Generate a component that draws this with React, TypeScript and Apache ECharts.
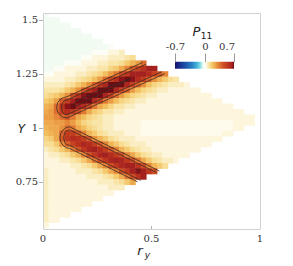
import React, { useEffect, useRef } from "react";
import * as echarts from "echarts";

// ---------------- data ----------------
const X_TICKS = [0, 0.5, 1];
const Y_TICKS = [0.75, 1, 1.25, 1.5];
const Y_RANGE = [0.532, 1.532];
const COLORBAR_TICKS = [-0.7, 0, 0.7];
const COLORBAR_LABELS = ["-0.7", "0", "0.7"];
const P_MIN = -0.7;
const P_MAX = 0.7;

// field P11 on a 0.025 x 0.025 grid; one string per row (top to bottom),
// one character per cell starting at x = 0.0125; value = index in LEVEL_CODES * 0.025,
// "-" = -0.025; "c{n}" means the character c repeated n times
const CELL_SIZE = 0.025;
const FIRST_CELL_X = 0.0125;
const LEVEL_STEP = 0.025;
const LEVEL_CODES = "0123456789abcdefghijklmnopqrs";
const ROW_Y = [
  1.525, 1.5, 1.475, 1.45, 1.425, 1.4, 1.375, 1.35, 1.325, 1.3,
  1.275, 1.25, 1.225, 1.2, 1.175, 1.15, 1.125, 1.1, 1.075, 1.05,
  1.025, 1.0, 0.975, 0.95, 0.925, 0.9, 0.875, 0.85, 0.825, 0.8,
  0.775, 0.75, 0.725, 0.7, 0.675, 0.65, 0.625, 0.6, 0.575, 0.55,
];
const ROWS = [
  "-",
  "-{3}",
  "-{5}",
  "-{7}",
  "-{9}",
  "-{11}",
  "-{12}0",
  "-{9}000223",
  "-{7}0022233345",
  "-{4}0002223344579bf",
  "--002222334467adhknqq",
  "002222334568bejmqqqokhd",
  "2222334568bfkorsrolgc9754",
  "33334579cglpssspkgc86543332",
  "444579chmqssspkgb8654332{6}",
  "5679cinrssspkfb8654332{10}",
  "78bhlqsssokeb86543322{13}",
  "9afnrsqojea86443322{17}",
  "abflomiea76443322{21}",
  "bbdfhea86543322{25}",
  "aabbdb8654433222221{17}2222",
  "9aacfea865433222221{17}22",
  "89agllhd97543332221{15}22",
  "67ahmonlhc975433322{15}",
  "557cgknpolhd975433322{11}",
  "34579dhmpqolhd9754332{9}",
  "2334579dimpqolida7543322222",
  "22233457aeimpqpmiea754332",
  "2222233457adimpqqnid975",
  "322222333457adimqrqmi",
  "32222222333457aeinq",
  "3222222222333457a",
  "32{11}333",
  "32{12}",
  "32{10}",
  "32{8}",
  "3222222",
  "32222",
  "322",
  "2",
];

// contour lines (x, Y)
const UPPER_OUTER = [
  [0.4586, 1.303], [0.35, 1.2533], [0.25, 1.2078], [0.15, 1.1623], [0.11, 1.144],
  [0.095, 1.141], [0.078, 1.131], [0.068, 1.117], [0.063, 1.098], [0.066, 1.078],
  [0.076, 1.061], [0.092, 1.05], [0.11, 1.046], [0.15, 1.0643], [0.25, 1.1098],
  [0.35, 1.1553], [0.45, 1.2008], [0.561, 1.251],
];
const UPPER_INNER = [
  [0.4743, 1.2949], [0.35, 1.2383], [0.25, 1.1928], [0.15, 1.1473], [0.11, 1.129],
  [0.098, 1.126], [0.089, 1.114], [0.085, 1.095], [0.089, 1.076], [0.098, 1.064],
  [0.11, 1.061], [0.15, 1.0793], [0.25, 1.1248], [0.35, 1.1703], [0.45, 1.2158],
  [0.5455, 1.2593],
];
const UPPER_CORE = [
  [0.14, 1.108], [0.15, 1.122], [0.17, 1.133], [0.2, 1.147], [0.3, 1.19], [0.405, 1.229],
  [0.3, 1.174], [0.2, 1.126], [0.17, 1.11], [0.152, 1.102], [0.14, 1.108],
];
const LOWER_OUTER = [
  [0.5367, 0.8003], [0.45, 0.8433], [0.35, 0.8928], [0.25, 0.9423], [0.15, 0.9918],
  [0.123, 1.0051], [0.107, 1.002], [0.092, 0.99], [0.081, 0.973], [0.078, 0.955],
  [0.081, 0.937], [0.092, 0.92], [0.107, 0.908], [0.123, 0.9051], [0.15, 0.8918],
  [0.25, 0.8423], [0.35, 0.7928], [0.436, 0.7502],
];
const LOWER_INNER = [
  [0.5226, 0.7933], [0.45, 0.8293], [0.35, 0.8788], [0.25, 0.9283], [0.15, 0.9778],
  [0.123, 0.9911], [0.109, 0.987], [0.1, 0.978], [0.095, 0.955], [0.1, 0.932],
  [0.109, 0.923], [0.123, 0.9191], [0.15, 0.9058], [0.25, 0.8563], [0.35, 0.8068],
  [0.4503, 0.757],
];
const LOWER_CORE = [[0.432, 0.809], [0.447, 0.801]];
const CONTOURS = [UPPER_OUTER, UPPER_INNER, UPPER_CORE, LOWER_OUTER, LOWER_INNER, LOWER_CORE];

// ---------------- style ----------------
const COLOR_STOPS: [number, string][] = [
  [-0.7, "#16136a"],
  [-0.6, "#1b2a8c"],
  [-0.45, "#1d55aa"],
  [-0.3, "#2a80c4"],
  [-0.18, "#42b4da"],
  [-0.1, "#86dde8"],
  [-0.06, "#c8f2ec"],
  [-0.025, "#f1fbf2"],
  [0, "#fcfdf5"],
  [0.025, "#fefaec"],
  [0.05, "#fdf6dd"],
  [0.1, "#f9e5a8"],
  [0.15, "#f6d482"],
  [0.2, "#f2bf5e"],
  [0.28, "#eb9a42"],
  [0.36, "#df7430"],
  [0.44, "#cf5126"],
  [0.52, "#c23e1f"],
  [0.6, "#b42c1e"],
  [0.65, "#a32220"],
  [0.675, "#8a1418"],
  [0.7, "#6e0c14"],
];

function hexToRgb(h: string) {
  return [parseInt(h.slice(1, 3), 16), parseInt(h.slice(3, 5), 16), parseInt(h.slice(5, 7), 16)];
}
function colorAt(v: number) {
  if (v <= COLOR_STOPS[0][0]) return COLOR_STOPS[0][1];
  for (let k = 1; k < COLOR_STOPS.length; k++) {
    const [v1, c1] = COLOR_STOPS[k];
    if (v <= v1 + 1e-9) {
      const [v0, c0] = COLOR_STOPS[k - 1];
      const t = (v - v0) / (v1 - v0);
      const a = hexToRgb(c0);
      const b = hexToRgb(c1);
      const m = a.map((q, i) => Math.round(q + (b[i] - q) * t));
      return `rgb(${m[0]},${m[1]},${m[2]})`;
    }
  }
  return COLOR_STOPS[COLOR_STOPS.length - 1][1];
}
const VM_COLORS: string[] = [];
for (let k = 0; k <= 56; k++) VM_COLORS.push(colorAt(P_MIN + (k * (P_MAX - P_MIN)) / 56));

function decodeRow(row: string) {
  return row.replace(/(.)\{(\d+)\}/g, (_m, c, n) => c.repeat(Number(n)));
}
const CELLS: number[][] = [];
ROWS.forEach((raw, j) => {
  const row = decodeRow(raw);
  for (let i = 0; i < row.length; i++) {
    const ch = row[i];
    const v = ch === "-" ? -LEVEL_STEP : LEVEL_CODES.indexOf(ch) * LEVEL_STEP;
    CELLS.push([FIRST_CELL_X + i * CELL_SIZE, ROW_Y[j], v]);
  }
});

// layout
const GRID = { left: 43, top: 13, width: 217, height: 216 };
const CB = { left: 175, top: 61.7, width: 59, height: 7 };
const SERIF = '"DejaVu Serif", serif';
const SANS = '"DejaVu Sans", sans-serif';

function buildOption() {
  const cbX = (v: number) => CB.left + ((v - P_MIN) / (P_MAX - P_MIN)) * CB.width;
  const graphic: any[] = [
    {
      type: "rect",
      z: 100,
      silent: true,
      shape: { x: GRID.left + 0.5, y: GRID.top + 0.5, width: GRID.width, height: GRID.height },
      style: { fill: "none", stroke: "#d2d2d2", lineWidth: 1 },
    },
    {
      type: "text", z: 100, x: 21.5, y: 128.5,
      style: { text: "Y", font: `italic 12px ${SANS}`, fill: "#222", align: "center", verticalAlign: "middle", textAlign: "center", textVerticalAlign: "middle" },
    },
    {
      type: "text", z: 100, x: 140, y: 250,
      style: { text: "r", font: `italic 13px ${SANS}`, fill: "#222", align: "center", verticalAlign: "middle", textAlign: "center", textVerticalAlign: "middle" },
    },
    {
      type: "text", z: 100, x: 147.5, y: 255,
      style: { text: "y", font: `italic 9px ${SANS}`, fill: "#222", align: "center", verticalAlign: "middle", textAlign: "center", textVerticalAlign: "middle" },
    },
    {
      type: "text", z: 100, x: 196.5, y: 31.5,
      style: { text: "P", font: `italic 13px ${SANS}`, fill: "#222", align: "center", verticalAlign: "middle", textAlign: "center", textVerticalAlign: "middle" },
    },
    {
      type: "text", z: 100, x: 206.5, y: 35.5,
      style: { text: "11", font: `9px ${SANS}`, fill: "#222", align: "center", verticalAlign: "middle", textAlign: "center", textVerticalAlign: "middle" },
    },
    {
      type: "rect", z: 100, silent: true,
      shape: { x: CB.left, y: CB.top, width: CB.width, height: CB.height },
      style: {
        fill: new echarts.graphic.LinearGradient(
          0, 0, 1, 0,
          COLOR_STOPS.map(([v, c]) => ({ offset: (v - P_MIN) / (P_MAX - P_MIN), color: c }))
        ),
      },
    },
  ];
  COLORBAR_TICKS.forEach((v, k) => {
    const x = Math.round(cbX(v)) + 0.5;
    graphic.push({
      type: "line", z: 101, silent: true,
      shape: { x1: x, y1: 53.5, x2: x, y2: CB.top + 0.5 },
      style: { stroke: "#9a9a9a", lineWidth: 1 },
    });
    const last = k === COLORBAR_TICKS.length - 1;
    graphic.push({
      type: "text", z: 101, x: last ? x + 0.5 : x, y: 46,
      style: {
        text: COLORBAR_LABELS[k], font: `10px ${SERIF}`, fill: "#333",
        align: last ? "right" : "center", verticalAlign: "middle",
        textAlign: last ? "right" : "center", textVerticalAlign: "middle",
      },
    });
  });

  return {
    animation: false,
    grid: { ...GRID, show: false },
    xAxis: {
      type: "value", min: 0, max: 1, interval: 0.5,
      axisLine: { show: false },
      splitLine: { show: false },
      axisTick: { show: true, inside: true, length: 3, lineStyle: { color: "#b0b0b0" } },
      axisLabel: {
        margin: 4, fontFamily: SERIF, fontSize: 10, color: "#333",
        formatter: (v: number) => (X_TICKS.includes(v) ? String(v) : ""),
      },
    },
    yAxis: {
      type: "value", min: Y_RANGE[0], max: Y_RANGE[1],
      axisLine: { show: false },
      splitLine: { show: false },
      axisTick: { show: true, length: 4, customValues: Y_TICKS, lineStyle: { color: "#b0b0b0" } },
      axisLabel: {
        customValues: Y_TICKS, margin: 5, fontFamily: SERIF, fontSize: 10, color: "#333",
        formatter: (v: number) => String(Math.round(v * 100) / 100),
      },
    },
    visualMap: {
      type: "continuous", show: false, min: P_MIN, max: P_MAX, dimension: 2, seriesIndex: 0,
      inRange: { color: VM_COLORS },
    },
    series: [
      {
        type: "custom",
        data: CELLS,
        dimensions: ["x", "y", "p"],
        encode: { x: 0, y: 1 },
        clip: true,
        silent: true,
        z: 2,
        renderItem: (_params: any, api: any) => {
          const x = api.value(0);
          const y = api.value(1);
          const a = api.coord([x - CELL_SIZE / 2, y + CELL_SIZE / 2]);
          const b = api.coord([x + CELL_SIZE / 2, y - CELL_SIZE / 2]);
          return {
            type: "rect",
            shape: { x: a[0], y: a[1], width: b[0] - a[0] + 0.5, height: b[1] - a[1] + 0.5 },
            style: { fill: api.visual("color") },
          };
        },
      },
      ...CONTOURS.map((pts) => ({
        type: "line",
        data: pts,
        showSymbol: false,
        symbol: "none",
        silent: true,
        z: 3,
        clip: true,
        lineStyle: { color: "#3d2a22", width: 0.9, opacity: 0.9 },
      })),
    ],
    graphic,
  };
}

export default function App() {
  const ref = useRef<HTMLDivElement>(null);
  useEffect(() => {
    const chart = echarts.init(ref.current!, null, { renderer: "svg" });
    chart.setOption(buildOption() as any);
    return () => chart.dispose();
  }, []);
  return (
    <div
      ref={ref}
      style={{ position: "fixed", left: 0, top: 0, width: 293, height: 266, background: "#fff" }}
    />
  );
}
